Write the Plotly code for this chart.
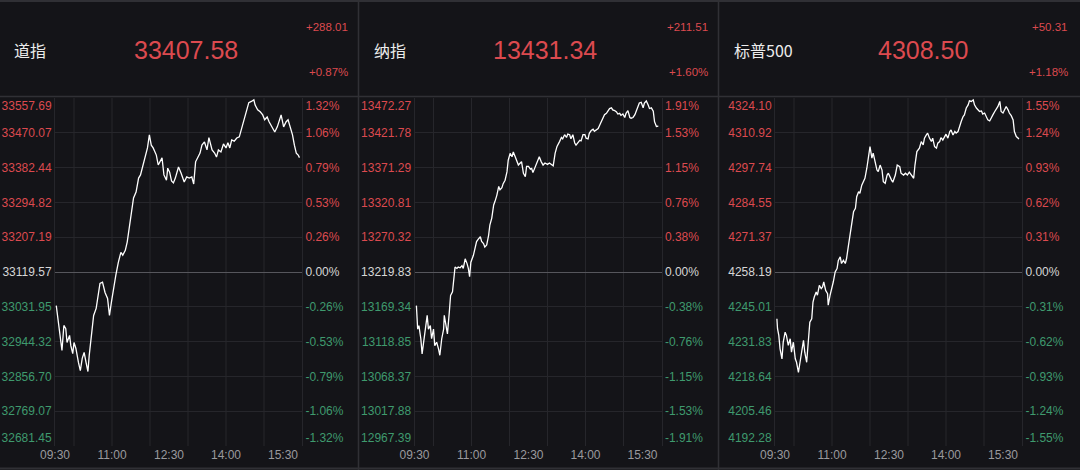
import plotly.graph_objects as go

W, H = 1080, 470

# ---------------- data ----------------
names = ["道指", "纳指", "标普500"]
last_values = ["33407.58", "13431.34", "4308.50"]
changes = ["+288.01", "+211.51", "+50.31"]
change_pcts = ["+0.87%", "+1.60%", "+1.18%"]
prev_close = [33119.57, 13219.83, 4258.19]

time_ticks = [0, 90, 180, 270, 360]
time_labels = ["09:30", "11:00", "12:30", "14:00", "15:30"]
hour_grid = [30, 90, 150, 210, 270, 330]

dji_ticks = [33557.69, 33470.07, 33382.44, 33294.82, 33207.19, 33119.57,
             33031.95, 32944.32, 32856.70, 32769.07, 32681.45]
dji_pct_labels = ["1.32%", "1.06%", "0.79%", "0.53%", "0.26%", "0.00%",
                  "-0.26%", "-0.53%", "-0.79%", "-1.06%", "-1.32%"]
ixic_ticks = [13472.27, 13421.78, 13371.29, 13320.81, 13270.32, 13219.83,
              13169.34, 13118.85, 13068.37, 13017.88, 12967.39]
ixic_pct_labels = ["1.91%", "1.53%", "1.15%", "0.76%", "0.38%", "0.00%",
                   "-0.38%", "-0.76%", "-1.15%", "-1.53%", "-1.91%"]
spx_ticks = [4324.10, 4310.92, 4297.74, 4284.55, 4271.37, 4258.19,
             4245.01, 4231.83, 4218.64, 4205.46, 4192.28]
spx_pct_labels = ["1.55%", "1.24%", "0.93%", "0.62%", "0.31%", "0.00%",
                  "-0.31%", "-0.62%", "-0.93%", "-1.24%", "-1.55%"]

# minutes after 09:30
dji_t = [2, 4, 7, 11, 14, 17, 19, 23, 25, 28, 30, 33, 37, 40, 43, 46, 49, 52, 54, 58,
         61, 65, 68, 71, 75, 79, 83, 86, 89, 92, 96, 100, 104, 107, 111, 114, 118, 120, 124, 128,
         132, 135, 139, 142, 146, 149, 152, 155, 160, 163, 166, 169, 172, 176, 178, 181, 184, 187, 190, 195,
         199, 204, 208, 212, 216, 219, 222, 226, 229, 232, 236, 240, 243, 248, 252, 255, 258, 262, 266, 270,
         273, 276, 279, 283, 287, 291, 295, 299, 303, 306, 310, 314, 316, 320, 324, 328, 331, 335, 338, 343,
         347, 351, 354, 357, 361, 365, 368, 372, 375, 378, 381, 384, 386]
dji_v = [33035, 33010, 32977, 32922, 32985, 32977, 32942, 32960, 32934, 32914,
         32942, 32927, 32892, 32871, 32902, 32917, 32892, 32869, 32909, 32960,
         33010, 33028, 33061, 33091, 33094, 33068, 33053, 33010, 33043, 33078,
         33111, 33144, 33169, 33162, 33174, 33195, 33237, 33270, 33306, 33321,
         33356, 33364, 33389, 33414, 33432, 33465, 33439, 33432, 33414, 33389,
         33397, 33407, 33364, 33351, 33381, 33371, 33349, 33344, 33356, 33384,
         33369, 33346, 33359, 33356, 33359, 33341, 33397, 33409, 33419, 33439,
         33447, 33427, 33458, 33427, 33419, 33409, 33427, 33422, 33442, 33432,
         33445, 33432, 33452, 33449, 33457, 33460, 33482, 33503, 33528, 33546,
         33549, 33553, 33540, 33528, 33523, 33515, 33503, 33510, 33498, 33482,
         33472, 33485, 33498, 33515, 33485, 33498, 33503, 33482, 33465, 33439,
         33419, 33414, 33407.58]

ixic_t = [3, 5, 7, 10, 12, 16, 18, 20, 22, 25, 27, 30, 32, 35, 38, 40, 43, 46, 47, 49,
          52, 55, 57, 60, 62, 64, 67, 69, 72, 75, 77, 80, 83, 85, 87, 89, 93, 96, 98, 101,
          104, 106, 109, 111, 114, 117, 119, 122, 125, 127, 130, 133, 135, 138, 140, 143, 146, 148, 151, 154,
          156, 159, 162, 164, 167, 169, 172, 175, 177, 180, 183, 185, 187, 191, 194, 197, 200, 203, 206, 210,
          213, 217, 219, 222, 225, 229, 232, 234, 237, 240, 242, 245, 247, 250, 253, 255, 258, 261, 263, 266,
          269, 271, 274, 276, 279, 282, 284, 287, 290, 292, 295, 298, 300, 303, 305, 308, 311, 313, 316, 319,
          321, 324, 326, 329, 332, 334, 337, 340, 342, 345, 348, 350, 353, 355, 358, 361, 363, 366, 369, 371,
          374, 377, 379, 382, 385]
ixic_v = [13171, 13137, 13142, 13123, 13101, 13128, 13147, 13157, 13137, 13142,
          13123, 13137, 13113, 13118, 13108, 13099, 13123, 13137, 13157, 13147,
          13130, 13162, 13186, 13191, 13210, 13227, 13225, 13227, 13226, 13229,
          13225, 13239, 13232, 13225, 13213, 13234, 13244, 13259, 13264, 13268,
          13271, 13264, 13261, 13256, 13259, 13273, 13288, 13298, 13317, 13322,
          13331, 13344, 13339, 13342, 13348, 13353, 13365, 13382, 13392, 13387,
          13394, 13387, 13380, 13375, 13378, 13380, 13363, 13358, 13373, 13373,
          13369, 13370, 13364, 13373, 13382, 13387, 13380, 13375, 13378, 13376,
          13378, 13375, 13374, 13392, 13402, 13409, 13415, 13413, 13419, 13415,
          13420, 13419, 13413, 13419, 13407, 13404, 13408, 13411, 13410, 13419,
          13419, 13414, 13413, 13421, 13425, 13427, 13424, 13426, 13428, 13432,
          13438, 13442, 13448, 13450, 13453, 13457, 13458, 13455, 13454, 13452,
          13449, 13450, 13447, 13449, 13444, 13450, 13454, 13444, 13443, 13444,
          13448, 13453, 13458, 13465, 13466, 13458, 13465, 13468, 13462, 13457,
          13458, 13453, 13438, 13431, 13431.34]

spx_t = [3, 4, 6, 8, 11, 13, 16, 18, 21, 24, 26, 29, 32, 34, 37, 40, 42, 45, 47, 50,
         53, 55, 58, 60, 62, 65, 67, 70, 73, 75, 77, 80, 83, 84, 87, 90, 92, 95, 98, 100,
         103, 105, 108, 111, 113, 116, 119, 121, 124, 127, 129, 132, 134, 137, 140, 142, 145, 148, 150, 153,
         155, 158, 161, 163, 166, 169, 171, 174, 177, 179, 182, 184, 186, 190, 193, 197, 199, 203, 206, 209,
         212, 216, 219, 221, 224, 228, 231, 234, 236, 239, 241, 244, 247, 249, 252, 255, 257, 260, 262, 265,
         268, 270, 273, 276, 278, 281, 284, 286, 289, 291, 294, 297, 299, 302, 305, 307, 310, 313, 315, 318,
         320, 323, 326, 328, 331, 334, 336, 339, 341, 344, 347, 349, 352, 355, 357, 360, 363, 365, 368, 370,
         373, 376, 378, 381, 384, 385]
spx_v = [4240.5, 4236.7, 4234.2, 4229.1, 4225.3, 4231.6, 4235.4, 4234.2, 4230.4, 4232.9,
         4227.8, 4231.6, 4225.3, 4224.0, 4220.2, 4224.0, 4227.8, 4232.3, 4227.8, 4224.0,
         4232.9, 4239.2, 4240.5, 4246.8, 4248.7, 4250.6, 4249.4, 4253.1, 4251.9, 4252.5,
         4254.4, 4251.2, 4250.0, 4245.6, 4249.4, 4251.9, 4254.4, 4258.2, 4259.5, 4262.6,
         4263.9, 4261.4, 4262.6, 4261.4, 4263.3, 4268.3, 4273.4, 4275.9, 4281.0, 4282.3,
         4286.7, 4288.6, 4288.0, 4291.1, 4292.4, 4293.7, 4297.5, 4302.5, 4305.7, 4301.3,
         4303.2, 4300.0, 4296.8, 4296.2, 4298.7, 4296.8, 4292.4, 4291.8, 4294.9, 4295.6,
         4293.7, 4293.0, 4292.2, 4294.9, 4298.7, 4298.1, 4295.6, 4294.9, 4295.6, 4294.9,
         4296.0, 4294.9, 4293.7, 4298.7, 4303.8, 4305.1, 4307.6, 4306.3, 4308.9, 4310.1,
         4310.8, 4308.9, 4307.6, 4308.9, 4305.7, 4305.1, 4307.0, 4307.6, 4309.1, 4308.2,
         4309.5, 4310.4, 4308.9, 4311.4, 4312.0, 4310.1, 4311.4, 4310.8, 4311.4, 4313.3,
         4315.2, 4317.1, 4317.7, 4320.3, 4321.5, 4323.0, 4322.8, 4323.4, 4321.5, 4320.3,
         4319.6, 4319.0, 4319.2, 4318.0, 4318.4, 4316.5, 4315.8, 4315.4, 4316.5, 4317.7,
         4319.0, 4319.6, 4320.9, 4322.8, 4319.0, 4318.4, 4320.3, 4320.9, 4319.6, 4318.4,
         4317.4, 4315.8, 4311.4, 4309.5, 4308.9, 4308.50]

# ---------------- style ----------------
BG = "#141418"
GRID = "#26262b"
SEP = "#303035"
ZERO = "#56565c"
RED = "#dc4a4f"
GREEN = "#3f9a6e"
NEUTRAL = "#d6d6d6"
AXIS_TXT = "#9a9a9e"
FONT = "Liberation Sans, Arial, Noto Sans CJK SC, sans-serif"

panel_off = [0, 359.5, 720]
plot_left, plot_right = 55, 302
plot_top, plot_bot = 98, 446
big_center = [186, 186, 203]

def px_x(x):
    return x / W

def px_y(y):
    return 1 - y / H

def colored(text, value, base, pos):
    if abs(value - base) < 1e-6:
        c = NEUTRAL
    elif value > base:
        c = RED
    else:
        c = GREEN
    s = f'<span style="color:{c}">{text}</span>'
    if pos == "top":
        s = "&nbsp;<br>" + s
    elif pos == "bottom":
        s = s + "<br>&nbsp;"
    return s

def pos_of(k, n):
    return "top" if k == 0 else ("bottom" if k == n - 1 else "mid")

series = [
    (dji_t, dji_v, dji_ticks, dji_pct_labels),
    (ixic_t, ixic_v, ixic_ticks, ixic_pct_labels),
    (spx_t, spx_v, spx_ticks, spx_pct_labels),
]

fig = go.Figure()
layout = dict(
    width=W, height=H,
    margin=dict(l=0, r=0, t=0, b=0, pad=0, autoexpand=False),
    paper_bgcolor=BG, plot_bgcolor=BG, showlegend=False,
    font=dict(family=FONT, size=12, color=NEUTRAL),
    hovermode=False,
)
shapes = []
annotations = []

for i, (t, v, ticks, pct_labels) in enumerate(series):
    base = prev_close[i]
    off = panel_off[i]
    xn = "x" if i == 0 else f"x{i + 1}"
    yl = "y" if i == 0 else f"y{2 * i + 1}"
    yr = f"y{2 * i + 2}"
    xkey = "xaxis" if i == 0 else f"xaxis{i + 1}"
    ylkey = "yaxis" if i == 0 else f"yaxis{2 * i + 1}"
    yrkey = f"yaxis{2 * i + 2}"

    lo, hi = min(ticks), max(ticks)
    n = len(ticks)
    pct_ticks = [(tv / base - 1) * 100 for tv in ticks]
    pct_v = [(val / base - 1) * 100 for val in v]

    fig.add_trace(go.Scatter(x=t, y=v, xaxis=xn, yaxis=yl, mode="lines",
                             line=dict(color="#ffffff", width=1.3)))
    fig.add_trace(go.Scatter(x=t, y=pct_v, xaxis=xn, yaxis=yr, mode="lines",
                             line=dict(color="rgba(0,0,0,0)", width=0)))

    dom_x = [px_x(off + plot_left), px_x(off + plot_right)]
    dom_y = [px_y(plot_bot), px_y(plot_top)]

    layout[xkey] = dict(
        domain=dom_x, anchor=yl, range=[0, 390], automargin=False,
        tickmode="array", tickvals=time_ticks, ticktext=time_labels,
        showgrid=False, zeroline=False, showline=False, ticks="",
        tickfont=dict(size=12, color=AXIS_TXT),
    )
    layout[ylkey] = dict(
        domain=dom_y, anchor=xn, range=[lo, hi], automargin=False,
        tickmode="array", tickvals=ticks,
        ticktext=[colored(f"{tv:.2f}", tv, base, pos_of(k, n)) for k, tv in enumerate(ticks)],
        showgrid=True, gridcolor=GRID, gridwidth=1,
        zeroline=False, showline=True, linecolor=GRID, ticks="",
        tickfont=dict(size=12),
    )
    layout[yrkey] = dict(
        overlaying=yl, anchor=xn, side="right", automargin=False,
        range=[(lo / base - 1) * 100, (hi / base - 1) * 100],
        tickmode="array", tickvals=pct_ticks,
        ticktext=[colored(lbl, tv, base, pos_of(k, n))
                  for k, (lbl, tv) in enumerate(zip(pct_labels, ticks))],
        showgrid=False, zeroline=True, zerolinecolor=ZERO, zerolinewidth=1,
        showline=True, linecolor=GRID, ticks="",
        tickfont=dict(size=12),
    )

    for g in hour_grid:
        shapes.append(dict(type="line", xref=xn, yref=f"{yl} domain",
                           x0=g, x1=g, y0=0, y1=1, layer="below",
                           line=dict(color=GRID, width=1)))

    annotations.append(dict(x=px_x(off + 12), y=px_y(50), xref="paper", yref="paper",
                            text=names[i], showarrow=False, xanchor="left", yanchor="middle",
                            font=dict(size=16, color="#ececec",
                                      family="Noto Sans CJK SC, Liberation Sans, sans-serif")))
    annotations.append(dict(x=px_x(off + big_center[i]), y=px_y(50), xref="paper", yref="paper",
                            text=last_values[i], showarrow=False, xanchor="center", yanchor="middle",
                            font=dict(size=25, color=RED)))
    annotations.append(dict(x=px_x(off + 350), y=px_y(27), xref="paper", yref="paper",
                            text=changes[i], showarrow=False, xanchor="right", yanchor="middle",
                            font=dict(size=11.5, color=RED)))
    annotations.append(dict(x=px_x(off + 350), y=px_y(72), xref="paper", yref="paper",
                            text=change_pcts[i], showarrow=False, xanchor="right", yanchor="middle",
                            font=dict(size=11.5, color=RED)))

shapes.append(dict(type="line", xref="paper", yref="paper", x0=0, x1=1,
                   y0=px_y(96.5), y1=px_y(96.5), line=dict(color=SEP, width=1.5)))
shapes.append(dict(type="line", xref="paper", yref="paper", x0=0, x1=1,
                   y0=px_y(1), y1=px_y(1), line=dict(color=SEP, width=2)))
shapes.append(dict(type="line", xref="paper", yref="paper", x0=0, x1=1,
                   y0=px_y(468.5), y1=px_y(468.5), line=dict(color=SEP, width=2)))
for sx in (358.5, 718.5):
    shapes.append(dict(type="line", xref="paper", yref="paper", x0=px_x(sx), x1=px_x(sx),
                       y0=0, y1=1, line=dict(color=SEP, width=1.5)))

layout["shapes"] = shapes
layout["annotations"] = annotations
fig.update_layout(**layout)

post = ("document.body.style.margin='0';document.body.style.padding='0';"
        "document.body.style.overflow='hidden';"
        "document.body.style.background='" + BG + "';")
fig.write_html("out.html", config={"displayModeBar": False}, post_script=post)
